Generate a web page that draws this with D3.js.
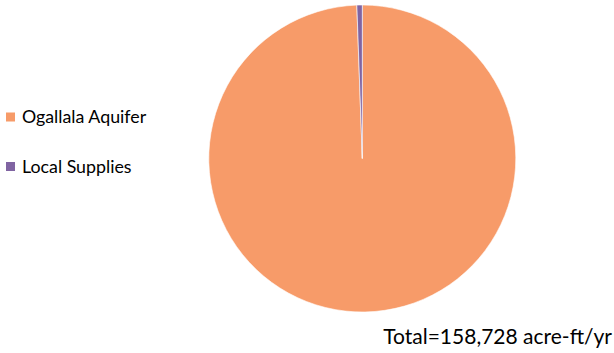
<!DOCTYPE html>
<html>
<head>
<meta charset="utf-8">
<script src="https://cdn.jsdelivr.net/npm/d3@7"></script>
<style>
  html, body { margin: 0; padding: 0; background: #fff; }
  svg { display: block; }
  text { font-family: Lato, "Open Sans", sans-serif; fill: #000; }
</style>
</head>
<body>
<svg id="chart" width="614" height="353"></svg>
<script>
// Water supply sources (acre-ft/yr)
const categories = ["Ogallala Aquifer", "Local Supplies"];
const values = [157828, 900];
const colors = ["#F79B69", "#8064A2"];
const totalLabel = "Total=158,728 acre-ft/yr";

const svg = d3.select("#chart");
const cx = 362.3, cy = 158.5, radius = 153.5;

const color = d3.scaleOrdinal().domain(categories).range(colors);

const pie = d3.pie().sort(null).value(d => d.value);
const arcs = pie(categories.map((c, i) => ({ name: c, value: values[i] })));
const arc = d3.arc().innerRadius(0).outerRadius(radius);

svg.append("g")
  .attr("transform", `translate(${cx},${cy})`)
  .selectAll("path")
  .data(arcs)
  .join("path")
  .attr("d", arc)
  .attr("fill", d => color(d.data.name))
  .attr("stroke", "#fff")
  .attr("stroke-width", 0.6);

// Legend
const legend = svg.append("g");
const legendY = d3.scalePoint().domain(categories).range([117, 166.5]);
const item = legend.selectAll("g")
  .data(categories)
  .join("g")
  .attr("transform", d => `translate(6,${legendY(d)})`);
item.append("rect")
  .attr("x", 0).attr("y", -4.5)
  .attr("width", 9).attr("height", 9)
  .attr("fill", d => color(d));
item.append("text")
  .attr("x", 16).attr("y", 0)
  .attr("dy", "0.35em")
  .attr("font-size", 17.8)
  .text(d => d);

// Total annotation
svg.append("text")
  .attr("x", 612).attr("y", 344)
  .attr("text-anchor", "end")
  .attr("font-size", 21)
  .text(totalLabel);
</script>
</body>
</html>
